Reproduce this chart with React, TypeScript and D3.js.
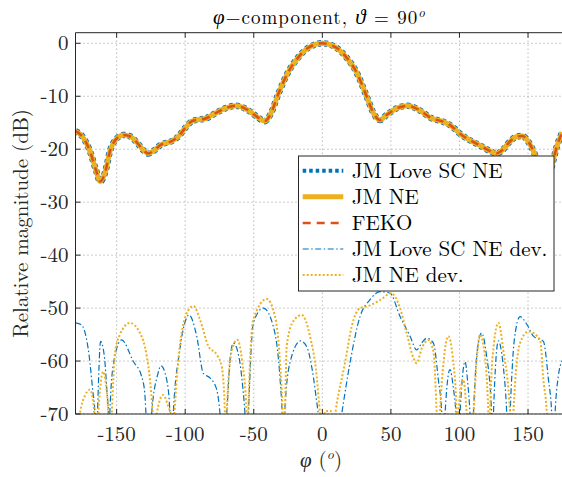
import React from 'react';
import * as d3 from 'd3';

// main pattern (dB), all three solvers overlap
const mainPhi = [-180, -175, -170, -165, -162, -158, -155, -150, -145, -140, -135, -130, -127, -123, -118, -110, -105, -100, -95, -90, -85, -80, -70, -63, -55, -48, -42, -38, -32, -25, -18, -10, 0, 10, 18, 25, 32, 38, 42, 47, 55, 62, 70, 80, 88, 95, 100, 107, 115, 122, 127, 132, 137, 142, 146, 150, 155, 160, 163, 167, 171, 175];
const mainDb = [-16.6, -17.6, -20, -24, -26.1, -24, -20.5, -18, -17.3, -17.6, -18.8, -20.3, -20.8, -20.3, -19.2, -18.5, -17.6, -16, -14.7, -14.4, -14.2, -13.5, -12.2, -11.8, -12.5, -13.8, -14.7, -13.5, -9.5, -5.5, -2.8, -0.8, 0, -0.8, -2.8, -5.5, -9.8, -13.5, -14.5, -13.5, -12.2, -11.8, -12.5, -14.2, -14.8, -15.8, -17, -18.2, -19.3, -20.3, -20.8, -20, -18.5, -17.6, -17.5, -18.5, -21, -25, -26, -23.5, -19.5, -16.8];

// deviation curves
const devLovePhi = [-180, -176, -173, -170, -167.5, -165.8, -165, -164, -161.7, -159, -157, -156, -155.5, -155, -152, -146.4, -137.8, -131.8, -129.5, -128.6, -126.5, -124.5, -120, -117.7, -113.5, -111.1, -110, -108.7, -104, -100.5, -97.2, -91.6, -86.8, -81.9, -77, -74.6, -72, -69.7, -67, -64.9, -61, -58, -56.4, -55, -53.9, -50.3, -43, -35.7, -30.8, -29.3, -28.4, -27.5, -23.6, -15.8, -11, -7.8, -2.9, 5, 14.1, 20.2, 27.5, 34.8, 42.1, 49.4, 56.7, 64, 68.8, 72.5, 76.1, 81, 84.6, 87.1, 88.3, 89.5, 93.1, 95.5, 97.5, 99, 100.4, 104.1, 106, 107.7, 109, 110.2, 113, 116.2, 119.5, 123.5, 124.2, 124.8, 128.4, 131.5, 134.5, 135.7, 136.9, 140, 144.2, 149, 153.9, 161.2, 164.9, 167.3, 168.5, 169.7, 172, 175];
const devLoveDb = [-52.8, -53.1, -54.7, -59.1, -65.4, -70, -78, -70, -56.3, -59, -66, -70, -78, -70, -60, -56, -60.1, -62.9, -66, -70, -80, -70, -62.5, -60.9, -63.5, -70, -78, -70, -58, -53, -51.3, -55.3, -62.3, -63.2, -65.4, -70, -80, -70, -59, -56.6, -59, -65, -70, -78, -70, -52.8, -50, -53.5, -63.5, -70, -78, -70, -60.3, -56.2, -57.5, -61, -70, -85, -70, -60.3, -51.6, -48.4, -46.9, -47.2, -51.6, -55.3, -57.9, -56.6, -55.7, -56.6, -63.5, -70, -78, -70, -61.6, -65, -70, -78, -70, -60.1, -64, -70, -78, -70, -58, -54.7, -58.5, -70, -78, -70, -56.2, -60, -70, -78, -70, -56, -51.6, -53, -55.3, -56.3, -63.5, -70, -78, -70, -63, -59.9];

const devNePhi = [-180, -176.8, -173, -169.5, -167.5, -166.3, -165, -163.4, -161, -159.7, -158, -156.1, -155, -153.6, -151.2, -147.6, -140.3, -133, -128.1, -125.7, -123.7, -122.2, -120.8, -116, -112.3, -110.5, -109.3, -108, -106.2, -102.6, -96.5, -94, -89.2, -83.1, -77, -73.4, -71, -70.3, -69.7, -66, -62, -58.5, -55.2, -54.6, -54, -50.3, -40.6, -34.5, -30.8, -28.9, -28, -27.2, -26, -21.2, -15.1, -9, -4.1, -1.7, 0, 2, 6, 8, 10.5, 16.5, 21.4, 27.5, 32.3, 42.1, 50.1, 56.7, 61.5, 66.4, 68.8, 72.5, 77.3, 81, 83.4, 84.6, 85.8, 88.5, 91.9, 95, 98, 98.6, 99.2, 102.9, 105.3, 107.5, 110.2, 112.5, 115, 117.5, 121.1, 121.7, 122.3, 125, 128.4, 132, 136.9, 138, 139.3, 144.2, 150.3, 158.8, 161.2, 163.7, 165, 175];
const devNeDb = [-78, -70, -66.5, -65.4, -67, -70, -78, -70, -63, -62, -64, -70, -78, -70, -58.5, -55, -52.8, -54.7, -59, -63.5, -70, -78, -70, -66.4, -68.6, -70, -72, -70, -63.5, -54.7, -50, -49.6, -52.2, -57.2, -58.8, -61, -70, -78, -70, -58, -56, -60, -70, -78, -70, -52.2, -48.3, -51.6, -60.4, -70, -78, -70, -57.2, -52.5, -51.3, -55.3, -62.9, -70, -74, -69.5, -69.4, -72, -68, -60.4, -53.5, -50, -49.7, -48.5, -47.2, -50, -54.7, -59.4, -60.4, -57.6, -56, -58.2, -70, -78, -70, -60, -55.3, -59, -70, -78, -70, -63.5, -70, -80, -70, -60, -55, -57, -70, -78, -70, -57, -52.8, -58, -70, -78, -70, -56.6, -54.4, -56, -63.5, -70, -80, -85];

const xTicks = [-150, -100, -50, 0, 50, 100, 150];
const yTicks = [0, -10, -20, -30, -40, -50, -60, -70];
const legendLabels = ['JM Love SC NE', 'JM NE', 'FEKO', 'JM Love SC NE dev.', 'JM NE dev.'];

const W = 562, H = 477;
const L = 75.5, R = 562.3, T = 32.7, B = 414;
const font = "'Latin Modern Roman', 'Liberation Serif', serif";
const greek = "'Liberation Serif', serif";

const blue = '#0072BD', yellow = '#EDB120', red = '#D95319';

const styles = [
  { stroke: blue, width: 4, dash: '3.5 3' },
  { stroke: yellow, width: 5, dash: '' },
  { stroke: red, width: 2.5, dash: '8 6' },
  { stroke: blue, width: 1.2, dash: '6 2.5 1.5 2.5' },
  { stroke: yellow, width: 2, dash: '2 2' },
];

export default function App() {
  const x = d3.scaleLinear().domain([-180, 175]).range([L, R]);
  const y = d3.scaleLinear().domain([-70, 2]).range([B, T]);
  const line = d3.line<[number, number]>()
    .x(d => x(d[0]))
    .y(d => y(d[1]))
    .curve(d3.curveMonotoneX);

  const main = mainPhi.map((p, i) => [p, mainDb[i]] as [number, number]);
  const devLove = devLovePhi.map((p, i) => [p, devLoveDb[i]] as [number, number]);
  const devNe = devNePhi.map((p, i) => [p, devNeDb[i]] as [number, number]);
  const series = [main, main, main, devLove, devNe];

  const legX = 298.5, legY = 156, legW = 255.5, legH = 135;
  const rowY = (i: number) => 170.7 + i * 26.1;
  const txt = { fontFamily: font };
  const gr = { fontFamily: greek, fontStyle: 'italic' };

  return (
    <svg width={W} height={H} style={{ position: 'absolute', left: 0, top: 0, background: '#fff' }}>
      <defs>
        <clipPath id="plot">
          <rect x={L} y={T} width={R - L} height={B - T} />
        </clipPath>
      </defs>
      <rect x={0} y={0} width={W} height={H} fill="#fff" />

      {/* grid */}
      <g stroke="#9a9a9a" strokeWidth={1} strokeDasharray="1 3">
        {xTicks.map(t => (
          <line key={'gx' + t} x1={x(t)} x2={x(t)} y1={T} y2={B} />
        ))}
        {yTicks.map(t => (
          <line key={'gy' + t} x1={L} x2={R} y1={y(t)} y2={y(t)} />
        ))}
      </g>

      {/* curves, blue dotted slightly wider so it peeks out under the yellow */}
      <g clipPath="url(#plot)" fill="none">
        {series.map((s, i) => (
          <path key={i} d={line(s) || ''} stroke={styles[i].stroke} strokeWidth={i === 0 ? 6.5 : styles[i].width}
            strokeDasharray={styles[i].dash || undefined} strokeLinejoin="round" />
        ))}
      </g>

      {/* axes box */}
      <g stroke="#262626" strokeWidth={1} fill="none">
        <line x1={L} x2={R} y1={T} y2={T} />
        <line x1={L} x2={R} y1={B} y2={B} />
        <line x1={L} x2={L} y1={T} y2={B} />
        {xTicks.map(t => (
          <g key={'tx' + t}>
            <line x1={x(t)} x2={x(t)} y1={B} y2={B - 5} />
            <line x1={x(t)} x2={x(t)} y1={T} y2={T + 5} />
          </g>
        ))}
        {yTicks.map(t => (
          <line key={'ty' + t} x1={L} x2={L + 5} y1={y(t)} y2={y(t)} />
        ))}
      </g>

      {/* tick labels */}
      {xTicks.map(t => (
        <text key={'lx' + t} x={x(t)} y={440.5} textAnchor="middle" style={txt} fontSize={21} fill="#262626">{t}</text>
      ))}
      {yTicks.map(t => (
        <text key={'ly' + t} x={68.5} y={y(t) + 7} textAnchor="end" style={txt} fontSize={21} fill="#262626">{t}</text>
      ))}

      {/* labels */}
      <text x={213} y={24} textLength={212} lengthAdjust="spacing" style={txt} fontSize={19} fill="#000">
        <tspan style={gr} fontSize={21}>φ</tspan>−component,  <tspan style={gr} fontSize={21}>ϑ</tspan> = 90<tspan dy={-7} fontSize={13} fontStyle="italic">o</tspan>
      </text>
      <text transform={`translate(28,${(T + B) / 2}) rotate(-90)`} textAnchor="middle" style={txt} fontSize={21} fill="#262626">
        Relative magnitude (dB)
      </text>
      <text x={321} y={467} textAnchor="middle" style={txt} fontSize={21} fill="#262626">
        <tspan style={gr}>φ</tspan> (<tspan dy={-8} fontSize={14} fontStyle="italic">o</tspan><tspan dy={8}>)</tspan>
      </text>

      {/* legend */}
      <rect x={legX} y={legY} width={legW} height={legH} fill="#fff" stroke="#262626" strokeWidth={1} />
      {legendLabels.map((lab, i) => (
        <g key={lab}>
          <line x1={302.7} x2={343.3} y1={rowY(i)} y2={rowY(i)} stroke={styles[i].stroke}
            strokeWidth={styles[i].width} strokeDasharray={styles[i].dash || undefined} />
          <text x={351.7} y={rowY(i) + 7} style={txt} fontSize={21} fill="#000">{lab}</text>
        </g>
      ))}
    </svg>
  );
}
